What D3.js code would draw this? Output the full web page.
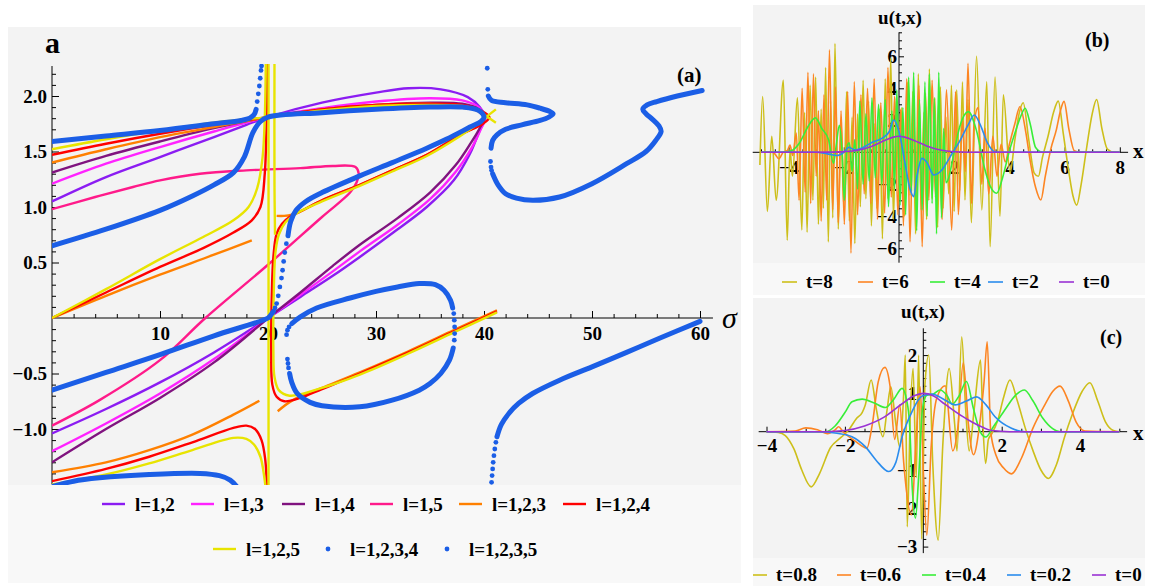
<!DOCTYPE html>
<html>
<head>
<meta charset="utf-8">
<script src="https://cdn.jsdelivr.net/npm/d3@7"></script>
<style>
  body { margin: 0; background: #fff; }
</style>
</head>
<body>
<svg id="fig" width="1151" height="586"></svg>
<script>
// ---------- panel (a): branches, [sigma, value] ----------
const l12 = [
  [[0,1.05],[5,1.27],[10,1.45],[15,1.63],[18,1.74],[20,1.81],[25,1.94],[30,2.03],[33,2.07],[36,2.06],[38.5,1.99],[39.6,1.9],[40.1,1.8],[39.6,1.69],[38.7,1.48],[37.2,1.24],[34.7,1.0],[31.6,0.77],[28.5,0.55],[26,0.38],[23,0.19],[20,0]],
  [[0,-1.04],[5,-0.82],[10,-0.58],[15,-0.31],[20,0]]
];
const l13 = [
  [[0,1.21],[5,1.39],[10,1.54],[15,1.68],[20,1.81],[25,1.89],[30,1.95],[35,1.98],[38,1.96],[39.5,1.9],[40.1,1.8],[39.7,1.7],[38.9,1.54],[37.4,1.32],[35,1.07],[32,0.84],[28.5,0.6],[26,0.42],[23,0.21],[20,0]],
  [[0,-1.2],[5,-0.95],[10,-0.68],[15,-0.37],[20,0]]
];
const l14 = [
  [[0,1.31],[5,1.46],[10,1.59],[15,1.71],[20,1.81],[25,1.88],[30,1.92],[35,1.94],[38,1.93],[39.5,1.88],[40,1.8],[39.6,1.71],[38.8,1.58],[37.4,1.38],[35,1.13],[32,0.9],[28.5,0.66],[26,0.47],[23,0.23],[20,0]],
  [[0,-1.3],[5,-1.0],[10,-0.72],[15,-0.4],[20,0]]
];
const l15 = [
  [[0,-0.97],[4.4,-0.74],[10,-0.38],[14.2,0],[20,0.48],[25,0.91],[27.6,1.13],[28.2,1.22],[28.4,1.3],[28.1,1.36],[26,1.37],[23,1.35],[18,1.33],[13.7,1.3],[10,1.24],[7.5,1.18],[4,1.09],[0,0.98]]
];
const l123 = [
  [[0,1.4],[5,1.52],[10,1.63],[15,1.72],[20,1.81],[25,1.88],[30,1.92],[35,1.93],[38,1.91],[39.5,1.86],[40,1.8],[39.5,1.74],[37.8,1.65],[34.7,1.47],[31.5,1.33],[28.5,1.2],[25,1.06],[23,0.96],[22.2,0.93],[21.5,0.92],[20.8,0.92]],
  [[0,0],[5,0.2],[10,0.39],[15,0.57],[18.5,0.7]],
  [[0,-1.39],[5,-1.3],[9,-1.19],[13,-1.05],[16.8,-0.87],[19.2,-0.745]],
  [[20.9,-0.84],[22.3,-0.74],[25,-0.63],[28.5,-0.49],[33,-0.3],[37.2,-0.11],[41.2,0.07]]
];
const l124 = [
  [[0,1.47],[5,1.57],[10,1.66],[15,1.74],[20,1.81],[25,1.88],[30,1.92],[35,1.93],[38,1.92],[39.7,1.87],[40.5,1.81],[39.9,1.75],[37.8,1.65],[34.7,1.47],[31.5,1.33],[28.5,1.2],[25,1.06],[23,0.96],[22,0.91],[21.3,0.85],[20.8,0.76],[20.5,0.55],[20.35,0.2],[20.3,-0.3],[20.4,-0.6],[20.8,-0.71],[21.5,-0.75],[23,-0.72],[25,-0.64],[28.5,-0.5],[33,-0.31],[37.2,-0.12],[41.2,0.06]],
  [[0,0],[5,0.23],[10,0.46],[14,0.63],[16.8,0.77],[18.5,0.88],[19.3,1.0],[19.7,1.3],[19.85,1.7],[19.95,2.3]],
  [[0,-1.47],[5,-1.36],[9,-1.25],[13,-1.12],[16.8,-0.99],[18,-0.97],[18.8,-1.0],[19.4,-1.1],[19.75,-1.28],[19.9,-1.55]]
];
const l125 = [
  [[0,1.52],[5,1.61],[10,1.69],[15,1.76],[20,1.81],[25,1.87],[30,1.91],[35,1.92],[38,1.91],[39.3,1.88],[40.2,1.82],[41.1,1.76]],
  [[41.1,1.88],[40.2,1.81],[39.3,1.74],[37.8,1.64],[34.7,1.46],[31.5,1.32],[28.5,1.19],[25,1.05],[22.6,0.94],[21.6,0.86],[21,0.75],[20.7,0.6],[20.55,0.3],[20.5,-0.3],[20.6,-0.53],[21,-0.65],[22,-0.7],[25,-0.63],[28.5,-0.51],[33,-0.32],[37.2,-0.13],[41.2,0.05]],
  [[0,0],[5,0.26],[10,0.53],[14,0.73],[16.8,0.88],[18.2,1.0],[19,1.17],[19.5,1.45],[19.7,1.8],[19.8,2.3]],
  [[0,-1.5],[5,-1.41],[9,-1.31],[13,-1.19],[16.8,-1.08],[18,-1.09],[18.7,-1.14],[19.3,-1.25],[19.65,-1.43],[19.8,-1.55]],
  [[20.05,-1.55],[20.05,2.3]],
  [[20.6,2.3],[20.6,1.2],[20.65,0.75]]
];
// point series (dense runs drawn as a thick stroke, sparse runs as dots)
const l1234Runs = [
  [[0,1.59],[5,1.64],[10,1.69],[15,1.75],[17.5,1.78],[18.3,1.8],[18.7,1.83],[18.9,1.88]],
  [[0,0.65],[5,0.8],[10,0.97],[13,1.1],[15,1.2],[16.8,1.31],[17.8,1.45],[18.6,1.67],[19.3,1.77],[20,1.81],[25,1.85],[30,1.88],[35,1.9],[38,1.9],[39.5,1.87],[40,1.81],[39.7,1.77],[38.7,1.72],[36.5,1.61],[34.7,1.53],[31.5,1.4],[28.5,1.28],[25,1.13],[23.5,1.05],[22.6,0.97],[22.1,0.87],[21.85,0.74]],
  [[20.5,0.06],[20.2,0.02],[20,0],[15,-0.16],[10,-0.33],[5,-0.49],[0,-0.65]],
  [[0,-1.52],[2,-1.47],[4.4,-1.44],[9,-1.41],[13.7,-1.4],[15.5,-1.42],[16.5,-1.46],[17.2,-1.53]]
];
const l1234Dots = [[19.0,1.95],[19.1,2.02],[19.2,2.09],[19.28,2.16],[19.35,2.23],[19.4,2.27],[21.7,0.67],[21.55,0.59],[21.45,0.51],[21.35,0.43],[21.25,0.36],[21.1,0.28],[20.95,0.2],[20.8,0.13],[20.65,0.09]];
const l1235Runs = [
  [[22.2,-0.05],[23,0.01],[24.5,0.09],[27.6,0.18],[30,0.24],[32,0.28],[34,0.31],[35.5,0.3],[36.3,0.25],[36.9,0.16],[37.1,0.09]],
  [[37.15,-0.27],[36.8,-0.38],[36,-0.5],[35,-0.59],[34,-0.65],[31.5,-0.74],[28.5,-0.8],[25,-0.79],[23.9,-0.76],[22.7,-0.68],[22.2,-0.58],[22,-0.5]],
  [[40.4,2.0],[40.7,1.96],[42,1.94],[44,1.92],[45.2,1.89],[46.1,1.86],[46.4,1.84],[46,1.81],[45.2,1.78],[43.5,1.74],[42,1.7],[41.2,1.65],[40.8,1.6],[40.65,1.53]],
  [[40.8,1.3],[41.3,1.2],[42,1.12],[43,1.08],[44.5,1.06],[47,1.09],[50,1.21],[53.2,1.39],[55,1.5],[55.9,1.6],[56.4,1.68],[56.2,1.73],[55.6,1.79],[55,1.84],[54.7,1.88],[55.1,1.92],[56,1.95],[57.9,2.0],[60.2,2.05]],
  [[41.2,-1.07],[41.6,-0.96],[42.3,-0.86],[43.2,-0.77],[44.5,-0.68],[47,-0.56],[50,-0.44],[53.2,-0.31],[56.3,-0.18],[60,-0.03]]
];
const l1235Dots = [[37.2,0.04],[37.25,-0.02],[37.28,-0.08],[37.28,-0.14],[37.25,-0.2],[21.9,-0.45],[21.85,-0.41],[21.8,-0.37],[21.72,-0.15],[21.8,-0.11],[21.95,-0.08],[40.3,2.25],[40.35,2.06],[40.6,1.41],[40.65,1.36],[40.7,1.33],[40.7,-1.48],[40.75,-1.42],[40.8,-1.36],[40.85,-1.3],[40.92,-1.24],[41.0,-1.18],[41.1,-1.12]];

const aLabels = ["l=1,2","l=1,3","l=1,4","l=1,5","l=1,2,3","l=1,2,4","l=1,2,5","l=1,2,3,4","l=1,2,3,5"];
const aXTicks = [10,20,30,40,50,60];
const aYTicks = [-1,-0.5,0.5,1,1.5,2];

// ---------- panel (b): u(t,x), [x, u] ----------
const b_t0 = [[-5,0],[-3,0],[-2.5,0.01],[-2,0.04],[-1.5,0.13],[-1,0.37],[-0.5,0.75],[-0.2,0.95],[0,1.0],[0.2,0.95],[0.5,0.77],[1,0.4],[1.5,0.14],[2,0.03],[2.5,0],[3,0],[8,0]];
const b_t2 = [[-5,0],[-3,0],[-2.6,-0.1],[-2.25,-0.2],[-2.0,0],[-1.82,0.31],[-1.6,0.15],[-1.3,0.3],[-1.0,0.6],[-0.62,0.87],[-0.35,1.3],[-0.19,2.02],[0,1.3],[0.2,-0.5],[0.4,-2.3],[0.53,-2.77],[0.65,-1.5],[0.83,-0.38],[1.0,-0.6],[1.26,-1.42],[1.5,-1.2],[1.93,-0.06],[2.2,0.7],[2.5,1.7],[2.73,2.33],[2.95,1.7],[3.2,0.6],[3.48,0.02],[4,0],[8,0]];
const b_t4 = [[-5,0],[-4.2,0],[-3.9,0.1],[-3.6,0.6],[-3.3,1.6],[-3.03,2.15],[-2.8,1.5],[-2.55,0.77],[-2.37,-0.69],[-2.27,0.5],[-2.16,1.69],[-2.07,0.2],[-1.98,-3.0],[-1.88,0.4],[-1.8,0.6],[-1.7,-1.2],[-1.6,0.8],[-1.5,-2.3],[-1.42,3.2],[-1.3,-2.0],[-1.2,2.4],[-1.08,-1.8],[-0.98,3.4],[-0.86,-1.6],[-0.74,3.0],[-0.62,-2.0],[-0.5,3.3],[-0.38,-3.4],[-0.26,2.6],[-0.16,-2.3],[-0.08,3.9],[0.04,-3.3],[0.14,2.8],[0.24,-3.9],[0.35,4.7],[0.45,-2.4],[0.53,5.0],[0.64,-4.9],[0.74,3.3],[0.84,-3.6],[0.94,4.4],[1.02,-4.0],[1.1,4.9],[1.2,-3.2],[1.28,3.4],[1.36,-5.1],[1.44,5.0],[1.54,-4.1],[1.62,1.5],[1.7,-1.9],[1.8,-1.6],[1.95,-0.4],[2.2,1.6],[2.51,2.54],[2.8,1.4],[3.1,-1.0],[3.3,-2.1],[3.54,-2.56],[3.75,-1.6],[4.0,0.1],[4.2,1.2],[4.4,2.2],[4.57,2.75],[4.75,1.8],[4.95,0.3],[5.2,0],[8,0]];
const b_t6 = [[-5,0],[-4.6,0.02],[-4.5,-0.1],[-4.35,-0.4],[-4.2,0.0],[-4.05,0.1],[-3.95,0.45],[-3.85,-0.2],[-3.72,1.2],[-3.62,-3.0],[-3.51,4.0],[-3.4,-2.5],[-3.3,5.0],[-3.2,-3.2],[-3.1,4.9],[-3.0,-1.5],[-2.92,2.6],[-2.82,-4.3],[-2.72,3.6],[-2.62,-3.0],[-2.52,6.4],[-2.4,-3.6],[-2.3,4.1],[-2.2,-4.4],[-2.1,2.6],[-1.98,-4.5],[-1.86,3.8],[-1.74,-6.3],[-1.62,4.4],[-1.5,-3.9],[-1.38,3.6],[-1.26,-2.6],[-1.14,4.0],[-1.02,-3.2],[-0.9,4.6],[-0.78,-4.2],[-0.66,3.1],[-0.52,-3.8],[-0.4,5.3],[-0.28,-2.8],[-0.16,3.5],[-0.04,-3.9],[0.06,2.7],[0.16,-4.6],[0.28,4.6],[0.4,-5.6],[0.52,3.0],[0.62,-3.1],[0.72,4.2],[0.84,-5.9],[0.96,3.7],[1.08,-3.0],[1.2,4.5],[1.32,-2.8],[1.44,3.2],[1.56,-4.2],[1.72,3.9],[1.91,-4.86],[2.05,3.8],[2.15,-3.9],[2.3,2.0],[2.4,-1.2],[2.5,5.56],[2.63,-3.2],[2.72,1.8],[2.87,2.8],[3.0,-2.0],[3.12,1.5],[3.25,-2.6],[3.4,1.0],[3.55,-1.5],[3.7,0.5],[3.85,-0.6],[4.0,0.5],[4.2,1.8],[4.38,2.85],[4.6,1.2],[4.75,-0.5],[4.95,-2.2],[5.14,-2.98],[5.3,-1.5],[5.5,0.2],[5.7,1.4],[5.85,2.6],[5.98,3.18],[6.15,1.5],[6.35,0.1],[6.6,0],[8,0]];
const b_t8 = [[-5.04,-0.8],[-4.94,3.48],[-4.77,-3.7],[-4.61,1.0],[-4.45,-3.0],[-4.19,4.5],[-4.05,-5.5],[-3.95,0.2],[-3.86,-1.5],[-3.68,3.4],[-3.52,-4.85],[-3.42,2.5],[-3.33,-5.0],[-3.22,4.2],[-3.12,-3.0],[-3.02,4.7],[-2.92,-4.5],[-2.82,2.7],[-2.74,-3.5],[-2.66,5.3],[-2.56,-5.6],[-2.48,3.2],[-2.4,-4.1],[-2.32,6.8],[-2.2,-4.8],[-2.1,2.0],[-2.0,-3.4],[-1.9,3.8],[-1.8,-4.3],[-1.7,2.2],[-1.6,-5.7],[-1.5,2.4],[-1.4,-3.4],[-1.3,4.5],[-1.2,-2.9],[-1.1,3.2],[-1.0,-4.6],[-0.9,1.8],[-0.8,-3.5],[-0.7,2.7],[-0.6,-5.4],[-0.5,4.6],[-0.4,-2.9],[-0.3,5.9],[-0.2,-4.2],[-0.1,3.4],[0.0,-2.4],[0.1,2.8],[0.2,-4.0],[0.3,4.4],[0.4,-2.7],[0.5,3.8],[0.6,-5.1],[0.7,4.9],[0.8,-3.6],[0.9,2.5],[1.0,-4.2],[1.1,5.2],[1.2,-2.9],[1.3,3.4],[1.4,-4.7],[1.5,4.1],[1.6,-3.5],[1.7,2.2],[1.8,-2.6],[1.9,4.2],[2.0,-3.7],[2.09,3.9],[2.2,-2.4],[2.3,4.4],[2.39,-2.98],[2.5,3.3],[2.62,-4.4],[2.81,6.0],[3.0,-3.6],[3.18,4.4],[3.3,-5.9],[3.48,4.7],[3.66,-4.0],[3.78,3.6],[4.02,-1.3],[4.2,0.8],[4.35,2.4],[4.5,3.1],[4.7,0.8],[4.9,-1.3],[5.05,-1.5],[5.2,-0.3],[5.4,1.0],[5.6,2.5],[5.77,3.2],[5.95,1.2],[6.15,-1.2],[6.3,-2.7],[6.44,-3.3],[6.6,-2.0],[6.8,0.3],[7.0,2.4],[7.16,3.3],[7.35,1.5],[7.55,0.2],[7.8,0],[8.0,0]];
const bLabels = ["t=8","t=6","t=4","t=2","t=0"];
const bXTicks = [-4,-2,2,4,6,8];
const bYTicks = [-6,-4,-2,2,4,6];

// ---------- panel (c): u(t,x), [x, u] ----------
const c_t0 = [[-4,0],[-2.5,0],[-2,0.03],[-1.5,0.15],[-1,0.38],[-0.54,0.73],[-0.25,0.93],[0,1.0],[0.25,0.94],[0.55,0.72],[1,0.4],[1.23,0.26],[1.5,0.12],[1.74,0.03],[2.2,0],[5,0]];
const c_t02 = [[-4,0],[-2.6,0],[-2.2,-0.04],[-1.82,-0.13],[-1.48,-0.39],[-1.2,-0.75],[-0.88,-1.04],[-0.7,-0.8],[-0.54,-0.13],[-0.29,0.52],[-0.03,0.93],[0.22,0.98],[0.55,0.83],[0.81,0.7],[1.1,0.8],[1.36,0.91],[1.6,0.7],[1.83,0.39],[2.25,0.09],[2.6,0],[5,0]];
const c_t04 = [[-4,0],[-2.5,0],[-2.25,0.15],[-2.0,0.5],[-1.82,0.78],[-1.56,0.85],[-1.25,0.75],[-0.97,0.63],[-0.75,0.85],[-0.54,1.13],[-0.42,0.8],[-0.35,0.2],[-0.28,-1.5],[-0.2,-2.26],[-0.12,-1.2],[-0.02,0.6],[0.09,0.95],[0.25,0.98],[0.43,1.09],[0.6,0.95],[0.74,0.72],[0.92,0.95],[1.1,1.31],[1.28,0.6],[1.45,0.0],[1.59,-0.14],[1.8,0.15],[2.1,0.6],[2.35,0.95],[2.58,1.09],[2.8,0.8],[3.05,0.35],[3.3,0.08],[3.49,0],[5,0]];
const c_t06 = [[-4,0],[-3.27,0.02],[-3.0,0.1],[-2.7,0.05],[-2.45,-0.05],[-2.25,0.05],[-2.16,0.13],[-2.05,0.0],[-1.8,-0.2],[-1.6,-0.35],[-1.44,-0.43],[-1.3,0.2],[-1.15,1.3],[-0.98,1.68],[-0.85,1.2],[-0.73,-0.2],[-0.6,0.7],[-0.5,-0.8],[-0.3,-2.17],[-0.2,-0.5],[-0.08,1.17],[0.0,-1.0],[0.09,-2.7],[0.2,-0.4],[0.35,0.9],[0.56,1.2],[0.75,-0.5],[0.88,0.1],[1.02,1.8],[1.15,0.2],[1.28,-0.6],[1.45,0.3],[1.55,1.3],[1.63,2.35],[1.72,0.0],[1.85,-0.6],[2.05,-0.95],[2.25,-1.1],[2.5,-0.7],[2.8,0.1],[3.1,0.7],[3.3,1.05],[3.49,1.19],[3.7,0.8],[3.9,0.25],[4.12,0.02],[5,0]];
const c_t08 = [[-4,0],[-3.7,-0.02],[-3.52,-0.1],[-3.3,-0.45],[-3.1,-1.0],[-2.86,-1.44],[-2.65,-1.1],[-2.37,-0.42],[-2.1,-0.15],[-1.9,0.05],[-1.7,0.35],[-1.56,0.5],[-1.48,0.7],[-1.33,1.35],[-1.2,0.6],[-1.03,-0.13],[-0.92,0.6],[-0.83,1.17],[-0.7,0.2],[-0.6,-0.4],[-0.5,1.0],[-0.46,2.0],[-0.41,-2.48],[-0.33,0.5],[-0.26,1.65],[-0.18,-1.2],[-0.12,2.0],[-0.04,-2.8],[0.04,1.2],[0.14,2.0],[0.24,-0.8],[0.38,-2.83],[0.5,-0.3],[0.66,1.65],[0.8,0.2],[0.86,-0.5],[0.98,2.48],[1.08,0.6],[1.17,-0.5],[1.3,0.6],[1.46,1.87],[1.52,0.2],[1.59,-0.83],[1.66,-0.2],[1.75,-0.05],[1.9,0.3],[2.05,0.9],[2.21,1.35],[2.4,0.8],[2.6,0.1],[2.8,-0.5],[3.0,-1.0],[3.19,-1.22],[3.4,-0.85],[3.6,-0.15],[3.8,0.45],[4.05,1.05],[4.25,1.28],[4.45,0.8],[4.65,0.25],[4.85,0.03],[5,0]];
const cLabels = ["t=0.8","t=0.6","t=0.4","t=0.2","t=0"];
const cXTicks = [-4,-2,2,4];
const cYTicks = [-3,-2,-1,1,2];

// ---------- drawing ----------
const FONT = '"Liberation Serif","Times New Roman",Times,serif';
const uColors = ["#cdbf1a","#fd8522","#38ee38","#2a8ced","#9a32d4"];
const svg = d3.select("#fig");
const minus = s => String(s).replace("-", "\u2212");

function bg(x, y, w, h, fill) {
  svg.append("rect").attr("x", x).attr("y", y).attr("width", w).attr("height", h).attr("fill", fill);
}
bg(8, 27, 733, 458, "#f3f3f3"); bg(8, 485, 733, 98, "#f8f8f8");
bg(753, 5, 392, 258, "#f3f3f3"); bg(753, 263, 392, 32, "#f8f8f8");
bg(753, 298, 392, 260, "#f3f3f3"); bg(753, 558, 392, 28, "#f8f8f8");

function label(g, x, y, txt, size, opts = {}) {
  return g.append("text").attr("x", x).attr("y", y).text(txt)
    .attr("font-family", FONT).attr("font-size", size)
    .attr("font-weight", opts.weight || "bold")
    .attr("font-style", opts.style || "normal")
    .attr("text-anchor", opts.anchor || "start");
}

function drawAxes(g, sx, sy, c) {
  const ax = sy(0), ay = sx(0);
  const strip = s => s.select(".domain").remove();
  g.append("line").attr("x1", sx(c.xExt[0])).attr("x2", sx(c.xExt[1]))
    .attr("y1", ax).attr("y2", ax).attr("stroke", "#000");
  g.append("line").attr("x1", ay).attr("x2", ay)
    .attr("y1", sy(c.yExt[0])).attr("y2", sy(c.yExt[1])).attr("stroke", "#000");
  g.append("g").attr("transform", `translate(0,${ax})`)
    .call(d3.axisTop(sx).tickValues(c.xMinor).tickSize(c.minor).tickFormat("")).call(strip);
  g.append("g").attr("transform", `translate(0,${ax})`)
    .call(d3.axisTop(sx).tickValues(c.xMajor).tickSize(c.major).tickFormat("")).call(strip);
  g.append("g").attr("transform", `translate(${ay},0)`)
    .call(d3.axisRight(sy).tickValues(c.yMinor).tickSize(c.minor).tickFormat("")).call(strip);
  g.append("g").attr("transform", `translate(${ay},0)`)
    .call(d3.axisRight(sy).tickValues(c.yMajor).tickSize(c.major).tickFormat("")).call(strip);
  g.append("g").attr("transform", `translate(0,${ax})`)
    .call(d3.axisBottom(sx).tickValues(c.xMajor).tickSize(0).tickPadding(c.xPad).tickFormat(c.fx))
    .call(strip)
    .attr("font-family", FONT).attr("font-size", c.fs).attr("font-weight", "bold");
  g.append("g").attr("transform", `translate(${ay},0)`)
    .call(d3.axisLeft(sy).tickValues(c.yMajor).tickSize(0).tickPadding(c.yPad).tickFormat(c.fy))
    .call(strip)
    .attr("font-family", FONT).attr("font-size", c.fs).attr("font-weight", "bold");
}

// ----- panel (a) -----
const ax = d3.scaleLinear().domain([0, 60]).range([52, 700]);
const ay = d3.scaleLinear().domain([0, 2]).range([318, 96]);
const gA = svg.append("g");
drawAxes(gA, ax, ay, {
  xExt: [0, 61.2], yExt: [-1.5, 2.27],
  xMajor: aXTicks, xMinor: d3.range(2, 61, 2).filter(v => v % 10 !== 0),
  yMajor: aYTicks, yMinor: d3.range(-15, 23).filter(i => i % 5 !== 0).map(i => i / 10),
  major: 7, minor: 4, xPad: 9, yPad: 5, fs: 19,
  fx: d => d, fy: d => minus(d.toFixed(1))
});
svg.append("clipPath").attr("id", "clipA").append("rect")
  .attr("x", 52).attr("y", 64).attr("width", 690).attr("height", 421);
const plotA = gA.append("g").attr("clip-path", "url(#clipA)");
const lineA = d3.line().x(d => ax(d[0])).y(d => ay(d[1])).curve(d3.curveCatmullRom.alpha(0.5));
const aLines = [
  [l12, "#8b1cf2"], [l13, "#ff22ff"], [l14, "#80137f"], [l15, "#ff1a8a"],
  [l123, "#ff8000"], [l124, "#ff0000"], [l125, "#e8e400"]
];
aLines.forEach(([segs, col]) => {
  plotA.append("g").selectAll("path").data(segs).join("path")
    .attr("d", lineA).attr("fill", "none").attr("stroke", col)
    .attr("stroke-width", 2.4).attr("stroke-linejoin", "round");
});
const blue = "#1b5ee6";
[[l1234Runs, l1234Dots], [l1235Runs, l1235Dots]].forEach(([runs, dots]) => {
  plotA.append("g").selectAll("path").data(runs).join("path")
    .attr("d", lineA).attr("fill", "none").attr("stroke", blue)
    .attr("stroke-width", 5).attr("stroke-linecap", "round").attr("stroke-linejoin", "round");
  plotA.append("g").selectAll("circle").data(dots).join("circle")
    .attr("cx", d => ax(d[0])).attr("cy", d => ay(d[1])).attr("r", 2.4).attr("fill", blue);
});
label(gA, 45, 53, "a", 30);
label(gA, 677, 82, "(a)", 21);
label(gA, 722, 328, "\u03c3", 30, { weight: "normal", style: "italic" });

// legend (a)
const aLegPos = [[102,504],[191,504],[282,504],[370,504],[459,504],[563,504],[213,549],[328,549],[447,549]];
const aLegCol = ["#8b1cf2","#ff22ff","#80137f","#ff1a8a","#ff8000","#ff0000","#e8e400",blue,blue];
aLabels.forEach((t, i) => {
  const [x, y] = aLegPos[i];
  if (i < 7) {
    gA.append("line").attr("x1", x).attr("x2", x + 23).attr("y1", y).attr("y2", y)
      .attr("stroke", aLegCol[i]).attr("stroke-width", 2.4);
    label(gA, x + 33, y + 7, t, 19);
  } else {
    gA.append("circle").attr("cx", x).attr("cy", y).attr("r", 2.4).attr("fill", aLegCol[i]);
    label(gA, x + 22, y + 7, t, 19);
  }
});

// ----- panels (b), (c) -----
function uPanel(p) {
  const g = svg.append("g");
  drawAxes(g, p.sx, p.sy, p.axes);
  const id = "clip" + p.tag;
  svg.append("clipPath").attr("id", id).append("rect")
    .attr("x", p.clip[0]).attr("y", p.clip[1]).attr("width", p.clip[2]).attr("height", p.clip[3]);
  const line = d3.line().x(d => p.sx(d[0])).y(d => p.sy(d[1])).curve(d3.curveMonotoneX);
  g.append("g").attr("clip-path", `url(#${id})`).selectAll("path").data(p.series).join("path")
    .attr("d", line).attr("fill", "none").attr("stroke", (d, i) => uColors[i])
    .attr("stroke-width", 1.6).attr("stroke-linejoin", "round");
  label(g, p.ulab[0], p.ulab[1], "u(t,x)", 19, { anchor: "middle" });
  label(g, p.xlab[0], p.xlab[1], "x", 21);
  label(g, p.tagPos[0], p.tagPos[1], "(" + p.tag + ")", 20);
  p.labels.forEach((t, i) => {
    const x = p.leg[i], y = p.legY;
    g.append("line").attr("x1", x).attr("x2", x + p.legLen).attr("y1", y).attr("y2", y)
      .attr("stroke", uColors[i]).attr("stroke-width", 1.6);
    label(g, x + p.legLen + 9, y + 6, t, 19);
  });
}

uPanel({
  tag: "b",
  sx: d3.scaleLinear().domain([0, 8]).range([899, 1119.8]),
  sy: d3.scaleLinear().domain([0, 6]).range([152.3, 56.3]),
  axes: {
    xExt: [-5.3, 8.3], yExt: [-6.9, 7.5],
    xMajor: bXTicks, xMinor: d3.range(-10, 17).filter(i => i % 4 !== 0).map(i => i / 2),
    yMajor: bYTicks, yMinor: d3.range(-13, 16).filter(i => i % 4 !== 0).map(i => i / 2),
    major: 5, minor: 3, xPad: 8, yPad: 2, fs: 19,
    fx: d => minus(d), fy: d => minus(d)
  },
  clip: [753, 5, 392, 258],
  series: [b_t8, b_t6, b_t4, b_t2, b_t0],
  labels: bLabels,
  ulab: [900, 24], xlab: [1133, 158], tagPos: [1085, 47],
  leg: [782, 858, 930, 988, 1059], legY: 282, legLen: 15
});

uPanel({
  tag: "c",
  sx: d3.scaleLinear().domain([0, 4]).range([923.3, 1080.1]),
  sy: d3.scaleLinear().domain([0, 2]).range([431.7, 355.1]),
  axes: {
    xExt: [-4.2, 5.2], yExt: [-3.17, 2.7],
    xMajor: cXTicks, xMinor: d3.range(-8, 11).filter(i => i % 4 !== 0).map(i => i / 2),
    yMajor: cYTicks, yMinor: d3.range(-15, 14).filter(i => i % 5 !== 0).map(i => i / 5),
    major: 5, minor: 3, xPad: 7, yPad: 6, fs: 19,
    fx: d => minus(d), fy: d => minus(d)
  },
  clip: [753, 298, 392, 260],
  series: [c_t08, c_t06, c_t04, c_t02, c_t0],
  labels: cLabels,
  ulab: [923, 318], xlab: [1133, 440], tagPos: [1100, 344],
  leg: [753, 837, 922, 1007, 1092], legY: 575, legLen: 14
});
</script>
</body>
</html>
